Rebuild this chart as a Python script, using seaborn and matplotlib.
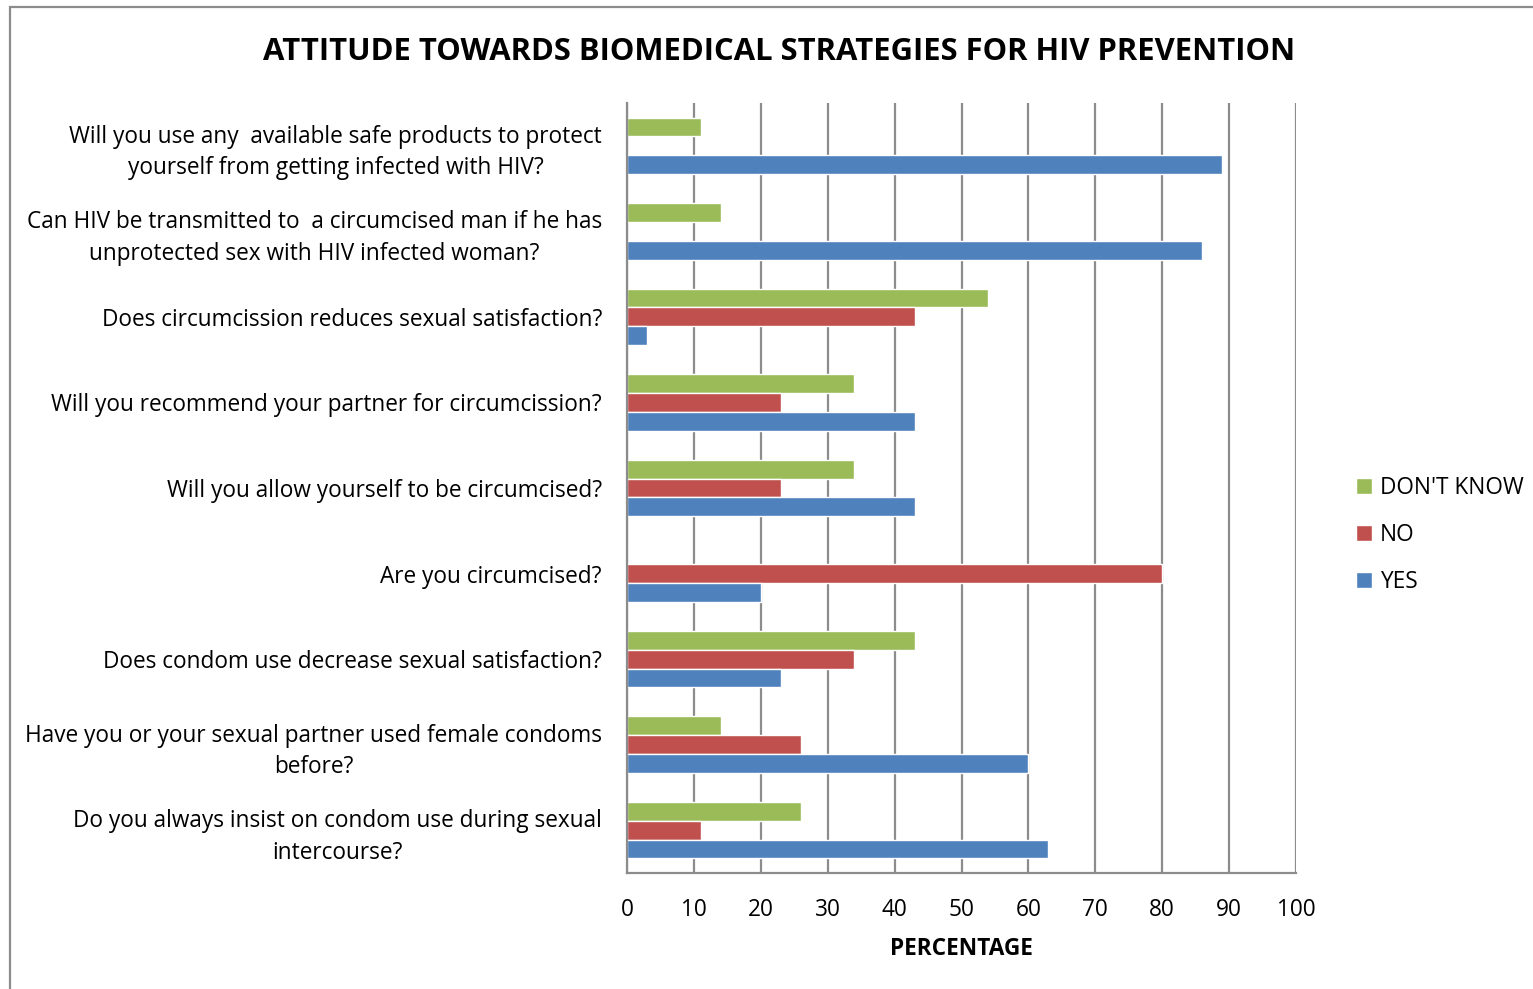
import numpy as np
import pandas as pd
import matplotlib
matplotlib.use("Agg")
import matplotlib.pyplot as plt
from matplotlib.patches import Rectangle
import seaborn as sns

categories = [
    "Will you use any  available safe products to protect\nyourself from getting infected with HIV?",
    "Can HIV be transmitted to  a circumcised man if he has\nunprotected sex with HIV infected woman?",
    "Does circumcission reduces sexual satisfaction?",
    "Will you recommend your partner for circumcission?",
    "Will you allow yourself to be circumcised?",
    "Are you circumcised?",
    "Does condom use decrease sexual satisfaction?",
    "Have you or your sexual partner used female condoms\nbefore?",
    "Do you always insist on condom use during sexual\nintercourse?",
]
dont_know = [11, 14, 54, 34, 34, 0, 43, 14, 26]
no = [0, 0, 43, 23, 23, 80, 34, 26, 11]
yes = [89, 86, 3, 43, 43, 20, 23, 60, 63]
series_names = ["DON'T KNOW", "NO", "YES"]
colors = ["#9BBB59", "#C0504D", "#4F81BD"]
xticks = [0, 10, 20, 30, 40, 50, 60, 70, 80, 90, 100]

rows = []
for name, vals in zip(series_names, [dont_know, no, yes]):
    for c, v in zip(categories, vals):
        rows.append({"question": c, "response": name, "value": v})
df = pd.DataFrame(rows)

sns.set_style("white")
plt.rcParams['font.family'] = ['Open Sans', 'DejaVu Sans']
plt.rcParams['text.color'] = 'black'
plt.rcParams['xtick.color'] = 'black'
plt.rcParams['ytick.color'] = 'black'
plt.rcParams['axes.labelcolor'] = 'black'

FS = 16.3

fig = plt.figure(figsize=(15.33, 9.89), dpi=100)
ax = fig.add_axes([627/1533, 1-873/989, (1296-627)/1533, (873-103)/989])

sns.barplot(data=df, y="question", x="value", hue="response",
            order=categories, hue_order=series_names,
            palette=colors, orient="h", width=0.66, ax=ax,
            saturation=1, errorbar=None, legend=True)

ax.set_xlim(0, 100)
ax.set_xticks(xticks)
ax.set_xticklabels([str(t) for t in xticks], fontsize=FS)
ax.set_ylim(len(categories) - 0.5, -0.5)
ax.grid(axis="x", color="#8C8C8C", linewidth=1.6)
ax.grid(axis="y", visible=False)
ax.set_axisbelow(True)
for s in ["top", "right"]:
    ax.spines[s].set_visible(False)
for s in ["left", "bottom"]:
    ax.spines[s].set_color("#8C8C8C")
    ax.spines[s].set_linewidth(1.6)
ax.tick_params(axis="both", length=0, colors="black")
ax.tick_params(axis="y", pad=18, labelsize=FS)
ax.tick_params(axis="x", pad=18)
for lab in ax.get_yticklabels():
    lab.set_multialignment("center")
    lab.set_linespacing(1.42)
ax.set_ylabel("")
ax.set_xlabel("PERCENTAGE", fontsize=FS, fontweight="bold", labelpad=11, color="black")

leg = ax.legend(loc="center left", frameon=False, fontsize=FS,
                handlelength=0.7, handleheight=0.7,
                handletextpad=0.35, labelspacing=1.02, borderpad=0)
leg.set_bbox_to_anchor((1345/1533, 1-535/989), transform=fig.transFigure)
for t in leg.get_texts():
    t.set_color("black")

fig.text(779/1533, 1-52/989, "ATTITUDE TOWARDS BIOMEDICAL STRATEGIES FOR HIV PREVENTION",
         ha="center", va="center", fontsize=22.3, fontweight="bold", color="black")

fig.patches.append(Rectangle((10/1533, -0.1), 2, (989-7)/989 + 0.1,
                             transform=fig.transFigure, fill=False,
                             edgecolor="#8C8C8C", linewidth=1.6))

fig.savefig("out.png", dpi=100)
